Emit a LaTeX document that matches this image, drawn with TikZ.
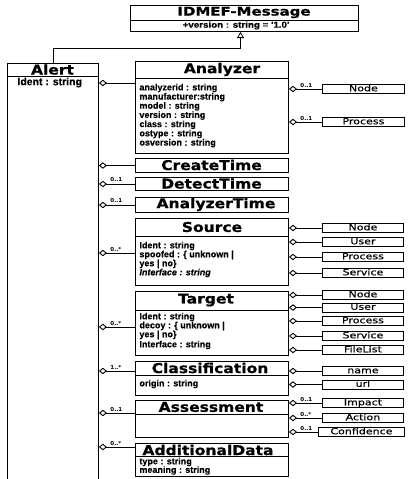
\documentclass[tikz,border=0pt]{standalone}
\usepackage{fontspec}
\setmainfont{Liberation Sans}
\newfontfamily\ttlfont[FakeStretch=1.15,FakeBold=0.8]{DejaVu Sans Bold}
\newfontfamily\msgfont[FakeStretch=1.25,FakeBold=0.8]{DejaVu Sans Bold}
\newfontfamily\attrfont[FakeBold=0.4]{Liberation Sans Bold}
\newfontfamily\attrifont[FakeBold=0.4]{Liberation Sans Bold Italic}
\newfontfamily\verfont[FakeStretch=1.15,FakeBold=0.4]{Liberation Sans Bold}
\newfontfamily\subfont[FakeStretch=1.3,FakeBold=0.5]{DejaVu Sans}
\newfontfamily\multfont{DejaVu Sans Bold}
\usetikzlibrary{arrows.meta}
\begin{document}
\begin{tikzpicture}[x=1pt,y=-1pt,line width=0.9pt,
 box/.style={draw,line width=1pt,inner sep=0pt,anchor=north west,minimum width=153pt},
 div/.style={draw,line width=1pt},
 ttl/.style={font=\ttlfont\fontsize{13.5}{14}\selectfont,inner sep=0pt},
 attr/.style={font=\attrfont\fontsize{9}{9}\selectfont,inner sep=0pt,anchor=west},
 attri/.style={font=\attrifont\fontsize{9}{9}\selectfont,inner sep=0pt,anchor=west},
 sub/.style={draw,line width=0.9pt,inner sep=0pt,minimum width=81pt,minimum height=9pt,text height=6pt,text depth=1.5pt,font=\subfont\fontsize{8.5}{9}\selectfont,anchor=west},
 mult/.style={font=\multfont\fontsize{5.5}{5.5}\selectfont,inner sep=0pt,anchor=south west},
 agg/.style={draw,line width=0.8pt,{Diamond[open,length=8pt,width=6.5pt,line width=0.9pt]}-},
 gen/.style={draw,line width=0.8pt,-{Triangle[open,length=6pt,width=7pt,line width=0.8pt]}}
]
\useasboundingbox (0,0) rectangle (407,479);
% IDMEF-Message
\node[box,minimum width=228pt,minimum height=26pt] (msg) at (130,5) {};
\draw[div] (msg.west |- 0,20) -- (msg.east |- 0,20);
\node[font=\msgfont\fontsize{12}{12}\selectfont,inner sep=0pt] (msgt) at (244,12.5) {IDMEF-Message};
\node[font=\verfont\fontsize{8.5}{9}\selectfont,inner sep=0pt] (msgv) at (236,25.5) {+version : string = '1.0'};
% Alert
\node[inner sep=0pt,anchor=north west,minimum width=91pt,minimum height=430pt] (alert) at (7,63) {};
\draw[div] (alert.south west) -- (alert.north west) -- (alert.north east) -- (alert.south east);
\draw[div] (alert.west |- 0,76) -- (alert.east |- 0,76);
\node[ttl] (alertt) at (52.5,69.5) {Alert};
\node[attr,font=\attrfont\fontsize{10.5}{10.5}\selectfont] (alerta) at (17,82.5) {Ident : string};
\draw[gen] (alert.north) |- ([xshift=-4pt]msg.south |- 0,48) -- ([xshift=-4pt]msg.south);
% Analyzer
\node[box,minimum height=92pt] (an) at (135,61) {};
\draw[div] (an.west |- 0,78) -- (an.east |- 0,78);
\node[ttl] (ant) at (222,69.5) {Analyzer};
\foreach \t [count=\i] in {analyzerid : string,manufacturer:string,model : string,version : string,class : string,ostype : string,osversion : string}
  \node[attr] (ana\i) at (139,{88+9.2*(\i-1)}) {\t};
\node[sub,minimum width=82pt] (ann) at (322,89) {Node};
\node[sub,minimum width=82pt] (anp) at (322,122) {Process};
\draw[agg] (an.east |- ann) -- (ann.west);
\draw[agg] (an.east |- anp) -- (anp.west);
\node[mult] (m1) at (300,88) {0..1};
\node[mult] (m2) at (300,121) {0..1};
% time boxes
\node[box,minimum height=14pt] (ct) at (135,158) {};
\node[ttl] (ctt) at (211.5,165) {CreateTime};
\node[box,minimum height=13pt] (dt) at (135,177) {};
\node[ttl] (dtt) at (211.5,183.5) {DetectTime};
\node[box,minimum height=15pt] (at) at (135,197) {};
\node[ttl] (att) at (216,204.5) {AnalyzerTime};
% Source
\node[box,minimum height=67pt] (src) at (135,218) {};
\draw[div] (src.west |- 0,236) -- (src.east |- 0,236);
\node[ttl] (srct) at (212,227) {Source};
\node[attr] (srca1) at (139,246) {Ident : string};
\node[attr] (srca2) at (139,255) {spoofed : \{ unknown |};
\node[attr] (srca3) at (139,264) {yes | no\}};
\node[attri] (srca4) at (139,273) {Interface : string};
\node[sub] (srcn) at (322,228) {Node};
\node[sub] (srcu) at (322,242) {User};
\node[sub] (srcp) at (322,257) {Process};
\node[sub] (srcs) at (322,273) {Service};
\foreach \b in {srcn,srcu,srcp,srcs} \draw[agg] (src.east |- \b) -- (\b.west);
% Target
\node[box,minimum height=64pt] (tgt) at (135,291) {};
\draw[div] (tgt.west |- 0,310) -- (tgt.east |- 0,310);
\node[ttl] (tgtt) at (206,300) {Target};
\node[attr] (tgta1) at (139,317) {Ident : string};
\node[attr] (tgta2) at (139,326) {decoy : \{ unknown |};
\node[attr] (tgta3) at (139,335) {yes | no\}};
\node[attr] (tgta4) at (139,345) {Interface : string};
\node[sub] (tgtn) at (322,295) {Node};
\node[sub] (tgtu) at (322,307.5) {User};
\node[sub] (tgtp) at (322,321) {Process};
\node[sub] (tgts) at (322,336) {Service};
\node[sub] (tgtf) at (322,350) {FileList};
\foreach \b in {tgtn,tgtu,tgtp,tgts,tgtf} \draw[agg] (tgt.east |- \b) -- (\b.west);
% Classification
\node[box,minimum height=34pt] (cls) at (135,361) {};
\draw[div] (cls.west |- 0,375) -- (cls.east |- 0,375);
\node[ttl] (clst) at (210,368) {Classification};
\node[attr] (clsa) at (139,384) {origin : string};
\node[sub] (clsn) at (322,371) {name};
\node[sub] (clsu) at (322,384.5) {url};
\foreach \b in {clsn,clsu} \draw[agg] (cls.east |- \b) -- (\b.west);
% Assessment
\node[box,minimum height=37pt] (asm) at (135,400) {};
\draw[div] (asm.west |- 0,414) -- (asm.east |- 0,414);
\node[ttl] (asmt) at (211,407) {Assessment};
\node[sub] (asmi) at (322,403) {Impact};
\node[sub] (asma) at (322,418) {Action};
\node[sub,minimum width=86pt] (asmc) at (318,432) {Confidence};
\foreach \b in {asmi,asma,asmc} \draw[agg] (asm.east |- \b) -- (\b.west);
\node[mult] (m3) at (300,402) {0..1};
\node[mult] (m4) at (300,417) {0..*};
\node[mult] (m5) at (300,431) {0..1};
% AdditionalData
\node[box,minimum height=33pt] (add) at (135,443) {};
\draw[div] (add.west |- 0,456) -- (add.east |- 0,456);
\node[ttl] (addt) at (208,450) {AdditionalData};
\node[attr] (adda1) at (139,462) {type : string};
\node[attr] (adda2) at (139,470.5) {meaning : string};
% Alert aggregations
\draw[agg] (alert.east |- 0,83) -- (an.west |- 0,83);
\draw[agg] (alert.east |- ct) -- (ct.west);
\draw[agg] (alert.east |- dt) -- (dt.west);
\draw[agg] (alert.east |- at) -- (at.west);
\draw[agg] (alert.east |- 0,253) -- (src.west |- 0,253);
\draw[agg] (alert.east |- 0,327) -- (tgt.west |- 0,327);
\draw[agg] (alert.east |- 0,371) -- (cls.west |- 0,371);
\draw[agg] (alert.east |- 0,413) -- (asm.west |- 0,413);
\draw[agg] (alert.east |- 0,447) -- (add.west |- 0,447);
\node[mult] (m6) at (110,182.5) {0..1};
\node[mult] (m7) at (110,203.5) {0..1};
\node[mult] (m8) at (110,252) {0..*};
\node[mult] (m9) at (110,326) {0..*};
\node[mult] (m10) at (110,370) {1..*};
\node[mult] (m11) at (110,412) {0..1};
\node[mult] (m12) at (110,446) {0..*};
\end{tikzpicture}
\end{document}
